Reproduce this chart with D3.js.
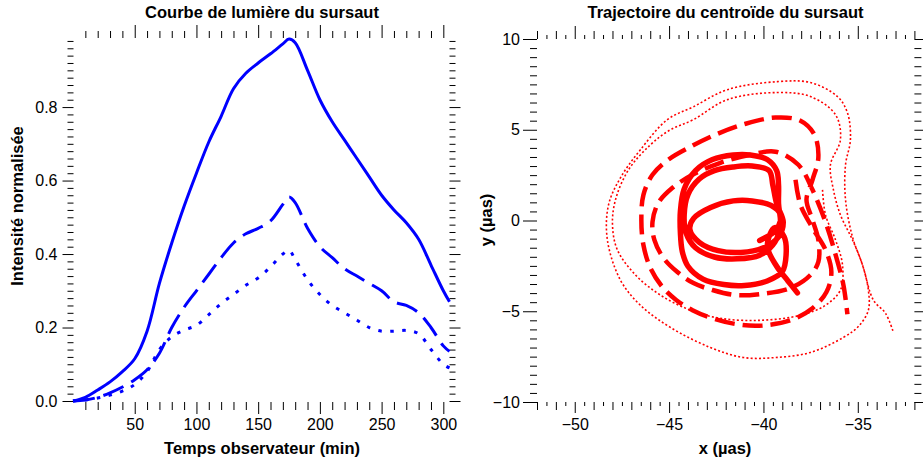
<!DOCTYPE html>
<html><head><meta charset="utf-8">
<script src="https://cdn.jsdelivr.net/npm/d3@7"></script>
<style>
html,body{margin:0;padding:0;background:#fff;}
svg{display:block;}
text{font-family:"Liberation Sans",Arial,Helvetica,sans-serif;}
</style></head>
<body><svg id="chart" width="923" height="465"></svg>
<script>
// ---------- DATA ----------
const timeMin = [0,10,20,30,40,50,60,70,80,90,100,110,120,130,140,150,160,170,175,180,190,200,210,220,230,240,250,260,270,280,290,300,305];
const fluxSolid  = [0,0.01,0.03,0.052,0.08,0.115,0.19,0.32,0.43,0.53,0.62,0.705,0.775,0.85,0.892,0.92,0.945,0.972,0.985,0.975,0.9,0.82,0.76,0.71,0.66,0.61,0.56,0.52,0.485,0.44,0.37,0.3,0.27];
const fluxDashed = [0,0.003,0.01,0.022,0.038,0.058,0.085,0.13,0.2,0.255,0.3,0.345,0.39,0.43,0.455,0.47,0.49,0.535,0.555,0.54,0.47,0.42,0.39,0.36,0.34,0.32,0.30,0.27,0.26,0.24,0.2,0.15,0.135];
const fluxDotted = [0,0.003,0.008,0.016,0.027,0.045,0.08,0.14,0.175,0.193,0.206,0.235,0.265,0.29,0.315,0.335,0.365,0.4,0.41,0.385,0.33,0.29,0.26,0.24,0.22,0.2,0.19,0.19,0.192,0.183,0.14,0.1,0.09];

const xTickLabelsL = [50,100,150,200,250,300];
const yTickLabelsL = [0,0.2,0.4,0.6,0.8];
const xTickLabelsR = [-50,-45,-40,-35];
const yTickLabelsR = [-10,-5,0,5,10];

// centroid tracks [x (µas), y (µas)]
const trackSolid = [[-40.2,-1.10],[-39.3,-0.49],[-39.1,0.32],[-39.6,0.83],[-40.6,1.08],[-41.6,1.08],[-42.8,0.72],[-43.7,0.12],[-43.9,-0.49],[-43.4,-1.20],[-42.4,-1.66],[-41.2,-1.76],[-40.0,-1.50],[-39.2,-0.90],[-38.95,-0.09],[-39.3,0.93],[-39.5,1.94],[-39.7,2.75],[-40.6,3.00],[-41.6,2.95],[-42.6,2.75],[-43.4,2.29],[-44.0,1.43],[-44.2,0.32],[-44.1,-0.69],[-43.6,-1.50],[-42.6,-2.01],[-41.4,-2.11],[-40.2,-1.91],[-39.4,-1.20],[-39.1,-0.19],[-39.2,0.93],[-39.2,1.94],[-39.3,2.75],[-39.8,3.36],[-40.7,3.61],[-41.6,3.61],[-42.7,3.36],[-43.6,2.75],[-44.2,1.74],[-44.4,0.52],[-44.4,-0.69],[-44.3,-1.71],[-44.0,-2.52],[-43.2,-3.23],[-42.1,-3.53],[-41.0,-3.58],[-39.8,-3.33],[-39.0,-2.82],[-38.8,-1.91],[-38.9,-0.90],[-39.4,-0.39],[-39.8,-1.40],[-39.3,-2.52],[-38.7,-3.33],[-38.2,-3.99]];
const trackDashed = [[-38.30,2.24],[-38.04,0.86],[-37.40,-0.41],[-36.71,-1.62],[-36.40,-2.84],[-36.66,-3.94],[-37.40,-4.83],[-38.57,-5.50],[-40.05,-5.78],[-41.38,-5.72],[-42.70,-5.39],[-43.76,-4.94],[-44.61,-4.39],[-45.35,-3.67],[-45.99,-2.62],[-46.36,-1.35],[-46.47,0.03],[-46.36,1.41],[-45.88,2.52],[-45.04,3.35],[-43.87,4.06],[-42.54,4.73],[-40.95,5.33],[-39.36,5.67],[-38.04,5.50],[-37.30,4.73],[-37.09,3.46],[-37.40,2.24],[-37.72,1.14],[-37.40,0.03],[-37.09,-1.07],[-37.09,-2.28],[-37.51,-3.00],[-38.57,-3.72],[-40.16,-4.05],[-41.48,-4.11],[-42.70,-3.83],[-43.71,-3.45],[-44.56,-2.84],[-45.30,-2.06],[-45.78,-1.07],[-45.88,-0.08],[-45.57,0.97],[-44.82,1.80],[-43.76,2.52],[-42.28,3.18],[-40.69,3.62],[-39.36,3.79],[-38.15,3.07],[-37.40,1.69],[-36.66,-0.24],[-36.13,-2.06],[-35.76,-3.56],[-35.55,-5.17]];
const trackDotted = [[-36.87,1.69],[-36.71,0.31],[-36.18,-1.07],[-35.81,-2.45],[-35.92,-3.83],[-36.71,-4.67],[-38.04,-5.22],[-40.16,-5.50],[-42.28,-5.39],[-43.87,-4.94],[-45.46,-4.11],[-46.78,-3.00],[-47.74,-1.62],[-48.0,-0.24],[-47.84,1.14],[-47.15,2.79],[-45.99,4.17],[-44.93,5.00],[-43.71,5.56],[-41.91,6.66],[-39.26,7.05],[-37.51,6.83],[-36.18,5.83],[-35.92,4.45],[-36.45,3.07],[-36.29,1.69],[-35.92,0.31],[-35.28,-1.07],[-34.75,-2.45],[-34.44,-3.83],[-34.44,-4.94],[-34.96,-5.83],[-35.76,-6.44],[-37.51,-7.27],[-39.36,-7.55],[-41.06,-7.55],[-42.81,-7.00],[-44.93,-5.89],[-46.52,-4.67],[-47.58,-3.28],[-48.27,-1.07],[-48.21,0.86],[-47.58,2.35],[-46.52,3.90],[-45.09,5.56],[-43.71,6.27],[-41.91,7.21],[-39.26,7.65],[-37.51,7.60],[-36.08,6.83],[-35.55,5.94],[-35.39,4.45],[-35.65,3.07],[-35.65,1.14],[-35.28,-0.91],[-34.75,-2.45],[-34.17,-4.39],[-33.53,-5.11],[-33.11,-6.17]];

// ---------- DRAW ----------
const svg = d3.select("#chart");
const BLUE = "#0000ff", RED = "#ff0000";

function tickAxis(g, axisFn, scale, values, size, labels, pad, fmt){
  const ax = axisFn(scale).tickValues(values).tickSize(size).tickSizeOuter(0).tickPadding(pad||3);
  if(labels) ax.tickFormat(fmt); else ax.tickFormat("");
  g.call(ax);
  g.select(".domain").remove();
  g.selectAll(".tick line").attr("stroke","#000").attr("stroke-width",1);
  g.selectAll(".tick text").attr("fill","#000").style("font-size","16px").style("font-family","'Liberation Sans',Arial,sans-serif");
}

// ----- Left panel -----
const xL = d3.scaleLinear().domain([0,305]).range([73,449.5]);
const yL = d3.scaleLinear().domain([0,0.988]).range([401,38]);
const L = svg.append("g");
const xMinorL = d3.range(1,31).map(i=>i*10).filter(v=>v%50!==0);
const yMinorL = d3.range(0,50).map(i=>+(i*0.02).toFixed(2)).filter(v=>Math.abs(v*5-Math.round(v*5))>1e-6);

tickAxis(L.append("g").attr("transform","translate(0,402)"), d3.axisBottom, xL, xMinorL, 8, false);
tickAxis(L.append("g").attr("transform","translate(0,402)"), d3.axisBottom, xL, xTickLabelsL, 12, true, 4.5, d3.format("d"));
tickAxis(L.append("g").attr("transform","translate(0,38)"), d3.axisTop, xL, xMinorL, 7, false);
tickAxis(L.append("g").attr("transform","translate(0,38)"), d3.axisTop, xL, xTickLabelsL, 13, false);
tickAxis(L.append("g").attr("transform","translate(73.5,0)"), d3.axisLeft, yL, yMinorL, 6, false);
tickAxis(L.append("g").attr("transform","translate(73.5,0)"), d3.axisLeft, yL, yTickLabelsL, 11, true, 5, d3.format(".1f"));
tickAxis(L.append("g").attr("transform","translate(449.5,0)"), d3.axisRight, yL, yMinorL, 6, false);
tickAxis(L.append("g").attr("transform","translate(449.5,0)"), d3.axisRight, yL, yTickLabelsL, 11, false);

const lineL = d3.line().x(d=>xL(d[0])).y(d=>yL(d[1])).curve(d3.curveCatmullRom.alpha(0.5));
const seriesL = [
  {v:fluxSolid,  dash:null,     w:3},
  {v:fluxDashed, dash:"22,9",   w:3},
  {v:fluxDotted, dash:"3.5,8.5",w:3}
];
seriesL.forEach(s=>{
  L.append("path").datum(timeMin.map((t,i)=>[t,s.v[i]]))
    .attr("d",lineL).attr("fill","none").attr("stroke",BLUE)
    .attr("stroke-width",s.w).attr("stroke-dasharray",s.dash)
    .attr("stroke-linejoin","round");
});

L.append("text").attr("x",262).attr("y",18).attr("text-anchor","middle")
  .style("font-size","16.5px").style("font-weight","bold").text("Courbe de lumière du sursaut");
L.append("text").attr("x",262).attr("y",454).attr("text-anchor","middle")
  .style("font-size","16.5px").style("font-weight","bold").text("Temps observateur (min)");
L.append("text").attr("transform","translate(23,206) rotate(-90)").attr("text-anchor","middle")
  .style("font-size","16.5px").style("font-weight","bold").text("Intensité normalisée");

// ----- Right panel -----
const xR = d3.scaleLinear().domain([-52,-32]).range([537,914.4]);
const yR = d3.scaleLinear().domain([-10,10]).range([402,39]);
const R = svg.append("g");
const halfR = d3.range(0,41).map(i=>-52+i*0.5);
const xHalf = halfR.filter(v=>v%1!==0);
const xInt = halfR.filter(v=>v%1===0 && v%5!==0);
const yMinorR = d3.range(0,41).map(i=>-10+i*0.5).filter(v=>v%5!==0);

tickAxis(R.append("g").attr("transform","translate(0,402)"), d3.axisBottom, xR, xHalf, 4, false);
tickAxis(R.append("g").attr("transform","translate(0,402)"), d3.axisBottom, xR, xInt, 8, false);
tickAxis(R.append("g").attr("transform","translate(0,402)"), d3.axisBottom, xR, xTickLabelsR, 11, true, 5.5, d3.format("d"));
tickAxis(R.append("g").attr("transform","translate(0,39)"), d3.axisTop, xR, xHalf, 4, false);
tickAxis(R.append("g").attr("transform","translate(0,39)"), d3.axisTop, xR, xInt, 8, false);
tickAxis(R.append("g").attr("transform","translate(0,39)"), d3.axisTop, xR, xTickLabelsR, 13, false);
tickAxis(R.append("g").attr("transform","translate(537,0)"), d3.axisLeft, yR, yMinorR, 7, false);
tickAxis(R.append("g").attr("transform","translate(537,0)"), d3.axisLeft, yR, yTickLabelsR, 14, true, 3, d3.format("d"));
tickAxis(R.append("g").attr("transform","translate(914.4,0)"), d3.axisRight, yR, yMinorR, 7, false);
tickAxis(R.append("g").attr("transform","translate(914.4,0)"), d3.axisRight, yR, yTickLabelsR, 12, false);

const lineR = d3.line().x(d=>xR(d[0])).y(d=>yR(d[1])).curve(d3.curveCatmullRom.alpha(0.5));
R.append("path").datum(trackDotted).attr("d",lineR).attr("fill","none").attr("stroke",RED)
  .attr("stroke-width",1.6).attr("stroke-dasharray","2,2.2");
R.append("path").datum(trackDashed).attr("d",lineR).attr("fill","none").attr("stroke",RED)
  .attr("stroke-width",4.5).attr("stroke-dasharray","20,8").attr("stroke-linejoin","round");
R.append("path").datum(trackSolid).attr("d",lineR).attr("fill","none").attr("stroke",RED)
  .attr("stroke-width",5.5).attr("stroke-linejoin","round").attr("stroke-linecap","round");

R.append("text").attr("x",725.5).attr("y",18).attr("text-anchor","middle")
  .style("font-size","16.5px").style("font-weight","bold").text("Trajectoire du centroïde du sursaut");
R.append("text").attr("x",725).attr("y",454).attr("text-anchor","middle")
  .style("font-size","16.5px").style("font-weight","bold").text("x (µas)");
R.append("text").attr("transform","translate(492,220) rotate(-90)").attr("text-anchor","middle")
  .style("font-size","16.5px").style("font-weight","bold").text("y (µas)");
</script></body></html>
